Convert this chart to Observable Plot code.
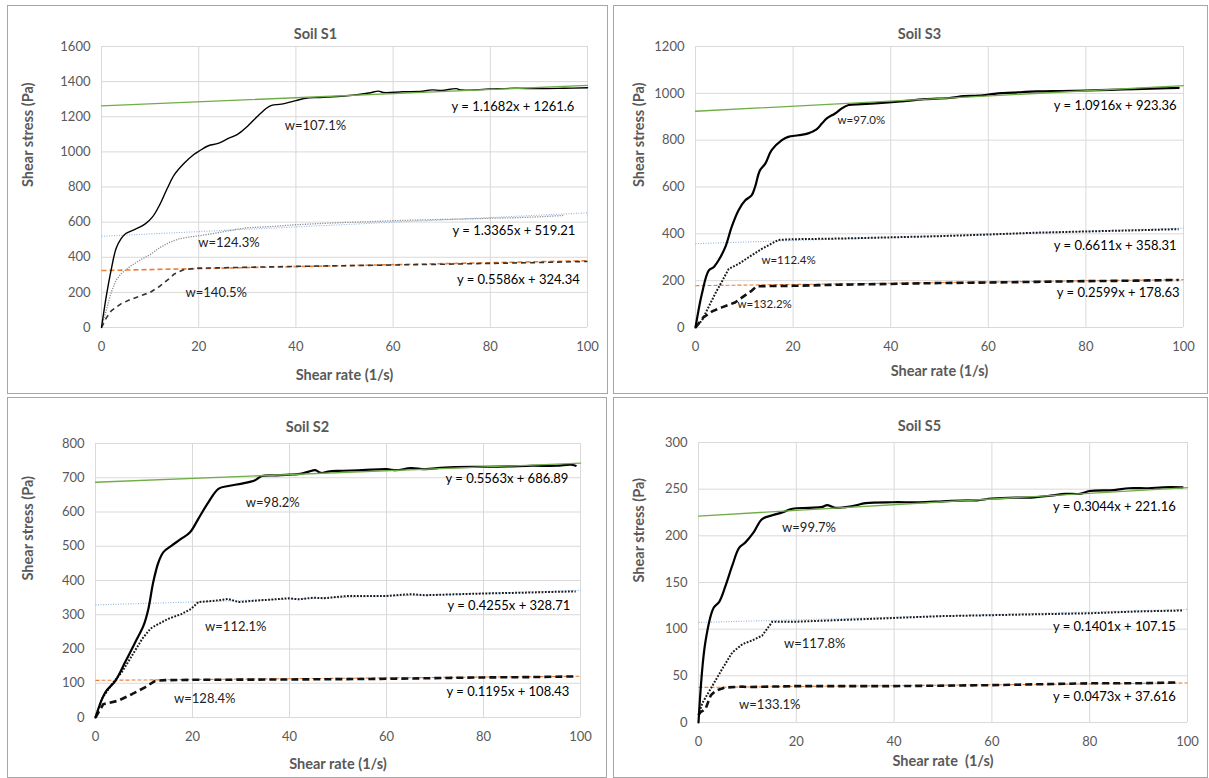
<!DOCTYPE html>
<html>
<head>
<meta charset="utf-8">
<script src="https://cdn.jsdelivr.net/npm/d3@7"></script>
<script src="https://cdn.jsdelivr.net/npm/@observablehq/plot@0.6"></script>
<style>
  body { margin: 0; background: #fff; font-family: Lato, "Open Sans", sans-serif; }
  #wrap { position: relative; width: 1209px; height: 778px; overflow: hidden; background: #fff; }
  .frame { position: absolute; border: 1px solid #a6a6a6; box-sizing: border-box; }
  .chart { position: absolute; }
</style>
</head>
<body>
<div id="wrap"></div>
<script>
// ---------- tick labels ----------
const xTicks = [0, 20, 40, 60, 80, 100];
const s1YTicks = [0, 200, 400, 600, 800, 1000, 1200, 1400, 1600];
const s3YTicks = [0, 200, 400, 600, 800, 1000, 1200];
const s2YTicks = [0, 100, 200, 300, 400, 500, 600, 700, 800];
const s5YTicks = [0, 50, 100, 150, 200, 250, 300];

// ---------- Soil S1 : [shear rate, shear stress] ----------
const s1W107 = [[0,0],[1,180],[2,330],[3,450],[4,505],[5,535],[7,560],[9,590],[10.5,630],[12,700],[13.5,790],[15,870],[17,935],[19,985],[20,1003],[22,1035],[24,1048],[26,1075],[28,1100],[30,1145],[32,1200],[34,1250],[35,1265],[37,1272],[40,1292],[42,1305],[45,1310],[50,1318],[55,1335],[57,1346],[58,1338],[62,1342],[66,1345],[68,1353],[70,1350],[73,1360],[74,1352],[80,1358],[85,1362],[90,1360],[95,1362],[100,1365]];
const s1W124 = [[0,0],[1,100],[2,200],[3,270],[4,305],[6,350],[8,385],[10,415],[12,455],[14,485],[16,505],[18,515],[20,522],[23,535],[26,550],[28,560],[30,568],[35,575],[40,585],[45,592],[50,598],[55,602],[60,608],[65,612],[70,615],[75,618],[80,622],[85,625],[90,630],[95,638]];
const s1W140 = [[0,0],[1,55],[2,95],[4,135],[6,160],[8,180],[10,200],[12,235],[14,280],[15,305],[17,330],[20,338],[25,340],[30,343],[40,348],[50,352],[60,356],[70,360],[80,365],[90,370],[100,376]];
const s1TrendA = [[0,1261.6],[100,1378.4]];
const s1TrendB = [[0,519.2],[100,652.9]];
const s1TrendC = [[0,324.3],[100,380.2]];

// ---------- Soil S3 ----------
const s3W97 = [[0,0],[1.3,143],[2.7,243],[3.7,257],[4.7,286],[6.1,343],[7.4,429],[8.8,500],[10.2,543],[11.5,564],[12.2,600],[13.2,671],[14.3,700],[15.6,757],[17.7,800],[19,814],[21.1,821],[23.1,829],[24.8,846],[25.9,871],[26.9,893],[28.6,914],[30,936],[31.4,950],[34,954],[39.5,961],[42,965],[47,975],[52,980],[55,988],[58,990],[62,1000],[65,1003],[70,1008],[75,1010],[80,1012],[85,1015],[90,1018],[95,1021],[99,1023]];
const s3W112 = [[0,0],[1.3,29],[2.5,80],[4,143],[5.5,200],[6.8,250],[8.8,271],[10.9,300],[13.6,336],[17,374],[20,377],[30,380],[40,385],[50,390],[60,397],[70,405],[80,410],[90,415],[99,420]];
const s3W132 = [[0,0],[1.6,43],[3.5,70],[5.4,86],[8.1,107],[11.5,157],[12.5,176],[15,177],[20,178],[30,183],[40,186],[50,190],[60,192],[70,195],[80,198],[90,200],[99,203]];
const s3TrendA = [[0,923.4],[100,1032.5]];
const s3TrendB = [[0,358.3],[100,424.4]];
const s3TrendC = [[0,178.6],[100,204.6]];

// ---------- Soil S2 ----------
const s2W98 = [[0,0],[2,73],[4.1,107],[6.1,161],[8.2,220],[9.9,268],[10.9,317],[11.9,395],[13,454],[14,483],[15.7,502],[17.7,522],[19.5,541],[21.2,580],[23.3,629],[25.4,668],[27.4,676],[30.2,683],[32.9,693],[34.3,705],[37,707],[40,709],[42.5,712],[44,718],[45.3,722],[46.5,714],[48,718],[50,720],[55,722],[60,725],[62,722],[65,728],[68,725],[72,730],[80,732],[85,733],[90,735],[95,735],[98,738],[99,735]];
const s2W112 = [[0,0],[1.3,54],[3.4,98],[5.4,132],[7.5,180],[9.6,229],[11.3,259],[12.3,268],[15,288],[17.7,302],[19.7,317],[21.2,337],[24.7,341],[27.4,346],[29.5,337],[32.9,341],[39.8,348],[42,345],[45,350],[47,348],[52,355],[60,355],[65,360],[68,357],[75,360],[80,362],[90,365],[95,367],[99,368]];
const s2W128 = [[0,0],[1.6,39],[4.7,49],[7.5,68],[10.2,88],[12.3,107],[14.4,109],[20,110],[40,111],[60,113],[70,115],[80,117],[90,118],[99,120]];
const s2TrendA = [[0,686.9],[100,742.5]];
const s2TrendB = [[0,328.7],[100,371.3]];
const s2TrendC = [[0,108.4],[100,120.4]];

// ---------- Soil S5 ----------
const s5W99 = [[0,0],[1.4,86],[3.1,123],[4.2,129],[5.5,146],[6.9,168],[8.3,187],[9.6,193],[11.3,204],[13,218],[15.1,222],[17.1,225],[19.2,229],[22.6,230],[25.3,231],[26.3,233],[28,230],[31.5,232],[34.2,235],[39.7,236],[45,236],[50,237],[55,238],[57,238],[60,240],[65,241],[68,241],[72,243],[75,245],[78,245],[80,248],[85,249],[88,251],[92,251],[95,252],[99,252]];
const s5W117 = [[0,8],[0.8,21],[2.8,39],[4.8,57],[6.9,75],[9,84],[11,88],[13,93],[15.1,108],[20,108],[30,110],[40,112],[50,114],[60,115],[70,116],[80,117],[90,119],[99,120]];
const s5W133 = [[0,8],[0.4,11],[1.4,14],[2.5,29],[3.5,34],[5.5,37.5],[8.9,38.5],[10,38],[20,39],[40,39],[60,40],[70,41],[80,42],[90,42],[98,43]];
const s5TrendA = [[0,221.2],[100,251.6]];
const s5TrendB = [[0,107.2],[100,121.2]];
const s5TrendC = [[0,37.6],[100,42.3]];

// ---------- annotation texts ----------
const s1Eq = ["y = 1.1682x + 1261.6", "y = 1.3365x + 519.21", "y = 0.5586x + 324.34"];
const s1W = ["w=107.1%", "w=124.3%", "w=140.5%"];
const s3Eq = ["y = 1.0916x + 923.36", "y = 0.6611x + 358.31", "y = 0.2599x + 178.63"];
const s3W = ["w=97.0%", "w=112.4%", "w=132.2%"];
const s2Eq = ["y = 0.5563x + 686.89", "y = 0.4255x + 328.71", "y = 0.1195x + 108.43"];
const s2W = ["w=98.2%", "w=112.1%", "w=128.4%"];
const s5Eq = ["y = 0.3044x + 221.16", "y = 0.1401x + 107.15", "y = 0.0473x + 37.616"];
const s5W = ["w=99.7%", "w=117.8%", "w=133.1%"];

// ---------- layout ----------
const GREY = "#595959";
const panels = [
  { title: "Soil S1", xTitle: "Shear rate (1/s)", left: 7, top: 5, w: 601, h: 389, mL: 94, mR: 21, mT: 41, mB: 67,
    yMax: 1600, yTicks: s1YTicks, titleDx: -29, titleDy: -18, xtDy: 52, ytDx: -73,
    curves: [s1W107, s1W124, s1W140], trends: [s1TrendA, s1TrendB, s1TrendC], thin: true,
    eq: s1Eq, eqPos: [[97.3,1258],[97.5,548],[98.4,273]],
    wl: s1W, wPos: [[37.7,1150],[19.9,481],[17.3,196]], wSize: 13 },
  { title: "Soil S3", xTitle: "Shear rate (1/s)", left: 613, top: 5, w: 595, h: 389, mL: 82, mR: 25, mT: 41, mB: 67,
    yMax: 1200, yTicks: s3YTicks, titleDx: -20, titleDy: -18, xtDy: 48, ytDx: -56,
    curves: [s3W97, s3W112, s3W132], trends: [s3TrendA, s3TrendB, s3TrendC], thin: false,
    eq: s3Eq, eqPos: [[98.6,948],[98.6,347],[99.2,146]],
    wl: s3W, wPos: [[29.1,886],[13.5,289],[8.6,97]], wSize: 11.5 },
  { title: "Soil S2", xTitle: "Shear rate (1/s)", left: 7, top: 397, w: 600, h: 381, mL: 88, mR: 27, mT: 46, mB: 61,
    yMax: 800, yTicks: s2YTicks, titleDx: -30.5, titleDy: -22, xtDy: 51, ytDx: -67,
    curves: [s2W98, s2W112, s2W128], trends: [s2TrendA, s2TrendB, s2TrendC], thin: false,
    eq: s2Eq, eqPos: [[97.5,697],[97.9,325],[97.7,76]],
    wl: s2W, wPos: [[31,627],[22.6,264],[16.2,55]], wSize: 13 },
  { title: "Soil S5", xTitle: "Shear rate\u00a0 (1/s)", left: 613, top: 397, w: 595, h: 381, mL: 85, mR: 21, mT: 45, mB: 56,
    yMax: 300, yTicks: s5YTicks, titleDx: -23.5, titleDy: -22, xtDy: 43, ytDx: -59,
    curves: [s5W99, s5W117, s5W133], trends: [s5TrendA, s5TrendB, s5TrendC], thin: false,
    eq: s5Eq, eqPos: [[97.6,231],[97.6,102],[97.6,27]],
    wl: s5W, wPos: [[17.1,209],[17.5,84],[8.3,18.6]], wSize: 13 }
];

const wrap = document.getElementById("wrap");
const X = d => d[0], Y = d => d[1];

for (const p of panels) {
  const fr = document.createElement("div");
  fr.className = "frame";
  Object.assign(fr.style, { left: p.left + "px", top: p.top + "px", width: p.w + "px", height: p.h + "px" });
  wrap.appendChild(fr);

  const solidW = p.thin ? 1.4 : 2.2;
  const dotStyle = p.thin
    ? { stroke: "#8c8c8c", strokeWidth: 1.3, strokeDasharray: "1.2 1.3", strokeLinecap: "butt" }
    : { stroke: "#1a1a1a", strokeWidth: 2, strokeDasharray: "1.8 1.5", strokeLinecap: "butt" };
  const dashStyle = p.thin
    ? { stroke: "#333", strokeWidth: 1.6, strokeDasharray: "5 4", strokeLinecap: "butt" }
    : { stroke: "#111", strokeWidth: 2.6, strokeDasharray: "7 4", strokeLinecap: "butt" };

  const eqData = p.eq.map((t, i) => ({ t, x: p.eqPos[i][0], y: p.eqPos[i][1] }));
  const wData = p.wl.map((t, i) => ({ t, x: p.wPos[i][0], y: p.wPos[i][1] }));

  const chart = Plot.plot({
    width: p.w, height: p.h,
    marginLeft: p.mL, marginRight: p.mR, marginTop: p.mT, marginBottom: p.mB,
    x: { domain: [0, 100] },
    y: { domain: [0, p.yMax] },
    style: { fontFamily: "Lato, 'Open Sans', sans-serif", fontSize: "13px", color: GREY, background: "transparent", overflow: "visible" },
    marks: [
      Plot.gridX(xTicks, { stroke: "#d9d9d9", strokeOpacity: 1, strokeWidth: 1 }),
      Plot.gridY(p.yTicks, { stroke: "#d9d9d9", strokeOpacity: 1, strokeWidth: 1 }),
      Plot.axisX({ ticks: xTicks, tickSize: 0, tickPadding: 14, tickFormat: d => String(d), label: null, fill: GREY, fontSize: 13 }),
      Plot.axisY({ ticks: p.yTicks, tickSize: 0, tickPadding: 11, tickFormat: d => String(d), label: null, fill: GREY, fontSize: 13 }),
      // trend lines
      Plot.line(p.trends[1], { x: X, y: Y, stroke: "#8fb4e3", strokeWidth: 1.1, strokeDasharray: "1 1.5", strokeLinecap: "butt" }),
      Plot.line(p.trends[2], { x: X, y: Y, stroke: "#ed7d31", strokeWidth: p.thin ? 1.6 : 1.1, strokeDasharray: p.thin ? "5 3" : "4 2", strokeLinecap: "butt" }),
      // measured curves
      Plot.line(p.curves[2], { x: X, y: Y, ...dashStyle }),
      Plot.line(p.curves[1], { x: X, y: Y, ...dotStyle }),
      Plot.line(p.curves[0], { x: X, y: Y, stroke: "#000", strokeWidth: solidW, curve: "catmull-rom" }),
      Plot.line(p.trends[0], { x: X, y: Y, stroke: "#70ad47", strokeWidth: 1.3 }),
      // annotations
      Plot.text(eqData, { x: "x", y: "y", text: "t", textAnchor: "end", fill: "#000", fontSize: 13 }),
      Plot.text(wData, { x: "x", y: "y", text: "t", textAnchor: "start", fill: "#222", fontSize: p.wSize }),
      // titles
      Plot.text([p.title], { text: d => d, frameAnchor: "top", dx: p.titleDx, dy: p.titleDy, fill: GREY, fontSize: 14.5, fontWeight: "bold" }),
      Plot.text([p.xTitle], { text: d => d, frameAnchor: "bottom", dy: p.xtDy, fill: GREY, fontSize: 14.5, fontWeight: "bold" }),
      Plot.text(["Shear stress (Pa)"], { text: d => d, frameAnchor: "left", dx: p.ytDx, rotate: -90, fill: GREY, fontSize: 14.5, fontWeight: "bold" })
    ]
  });
  chart.classList.add("chart");
  chart.style.left = p.left + "px";
  chart.style.top = p.top + "px";
  chart.style.position = "absolute";
  wrap.appendChild(chart);
}
</script>
</body>
</html>
